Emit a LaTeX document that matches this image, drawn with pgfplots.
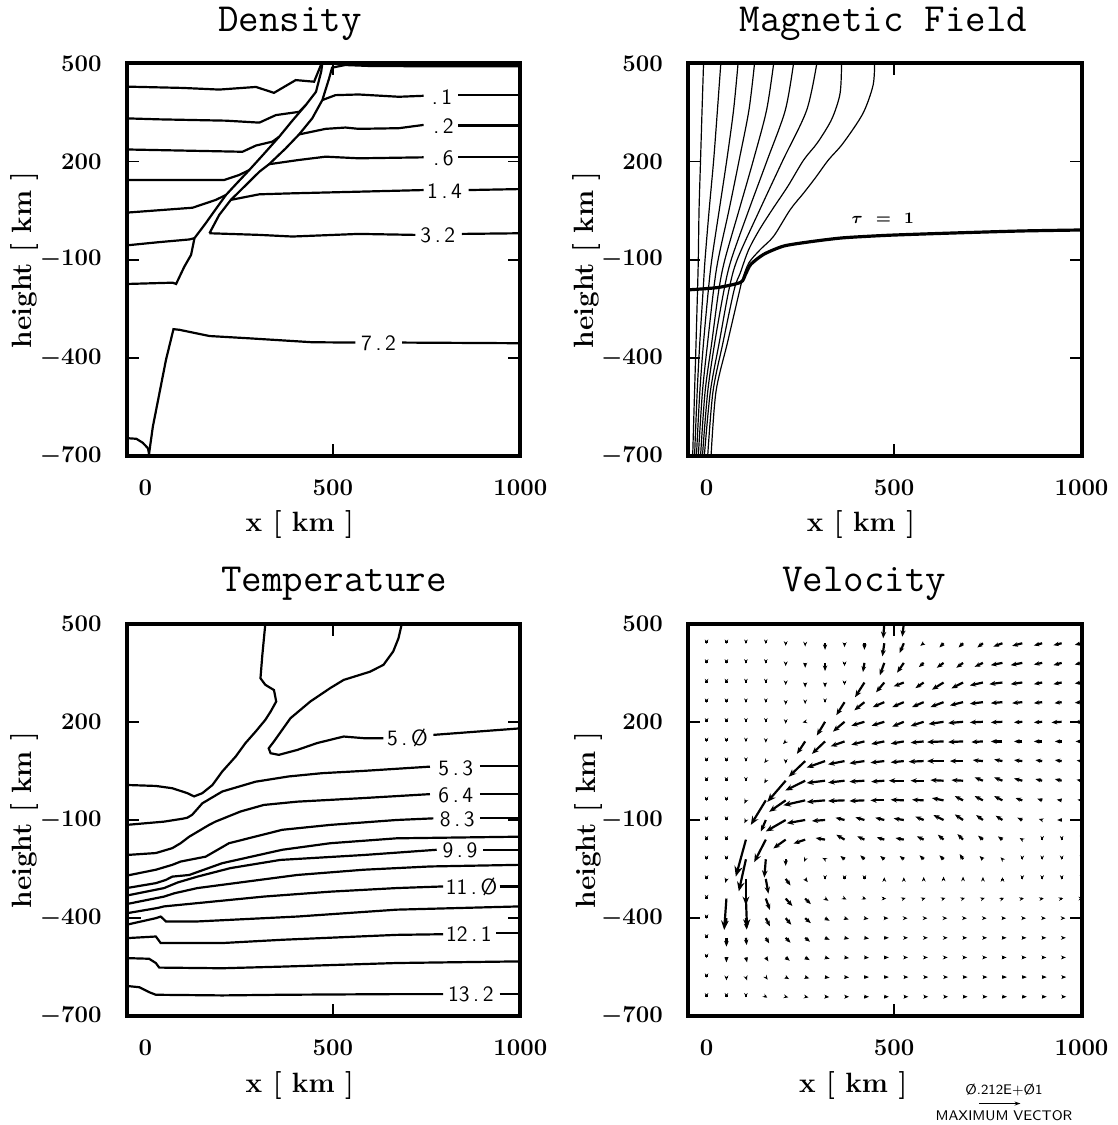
\documentclass[border=0pt]{standalone}
\usepackage{pgfplots}
\pgfplotsset{compat=1.18}
\usepgfplotslibrary{groupplots}
\usetikzlibrary{arrows.meta}

\begin{document}
\begin{tikzpicture}[lab/.style={font=\sffamily\fontsize{11}{12}\selectfont, inner sep=0pt}]
\begin{groupplot}[
  group style={group size=2 by 2, horizontal sep=84pt, vertical sep=84pt},
  scale only axis, width=197.5pt, height=197pt,
  xmin=-50, xmax=1000, ymin=-700, ymax=500,
  xtick={500}, extra x ticks={0,1000}, extra x tick style={major tick length=0pt},
  ytick={-700,-400,-100,200,500},
  major tick length=6pt,
  tick style={line width=0.8pt, black},
  axis line style={line width=2pt},
  /pgf/number format/1000 sep={},
  tick label style={font=\fontsize{13}{15}\selectfont\boldmath},
  xticklabel style={yshift=-8.5pt},
  yticklabel style={xshift=-9pt},
  xlabel={x [ km ]}, ylabel={height [ km ]},
  every axis x label/.style={at={(axis description cs:0.44,-0.175)}, anchor=center, font=\fontsize{14}{16}\selectfont\bfseries},
  every axis y label/.style={at={(axis description cs:-0.258,0.5)}, anchor=center, rotate=90, font=\fontsize{14}{16}\selectfont\bfseries},
  title style={font=\fontsize{20}{24}\selectfont\ttfamily, anchor=base},
  cycle list={black,solid,mark=none,line width=1.1pt\\},
  clip mode=individual,
]

% ---------------- Density ----------------
\nextgroupplot[title={Density}, title style={at={(axis description cs:0.415,1.052)}}]
\addplot coordinates {(-50,429) (100,425) (197,420) (295,428) (343,410) (401,449) (450,444) (470,500)};
\addplot coordinates {(-50,332) (38,329) (215,325) (304,319) (348,342) (410,352) (428,373)};
\addplot coordinates {(-50,237) (38,235) (259,230) (295,249) (339,261) (357,276)};
\addplot coordinates {(-50,144) (211,144) (250,159) (277,174)};
\addplot coordinates {(-50,44) (126,59) (188,83) (215,98)};
\addplot coordinates {(-50,-56) (38,-46) (117,-38) (131,-34)};
\addplot coordinates {(-50,-174) (73,-170) (82,-174) (104,-121) (122,-85) (131,-34) (160,10) (188,55) (215,98) (245,135) (277,174) (315,222) (357,276) (392,325) (428,373) (455,413) (469,475) (472,500)};
\addplot coordinates {(171,-19) (197,37) (228,83) (268,128) (304,169) (330,192) (374,240) (410,283) (445,332) (472,388) (490,454) (498,487) (533,495) (600,492) (800,491) (1000,491)};
\addplot coordinates {(472,388) (507,403) (569,405) (676,398) (742,401)};
\addplot coordinates {(835,403) (1000,403)};
\addplot coordinates {(410,283) (481,300) (534,304) (569,300) (676,302) (742,312)};
\addplot coordinates {(835,310) (1000,310)};
\addplot coordinates {(330,192) (410,205) (481,215) (569,210) (742,213)};
\addplot coordinates {(835,215) (1000,215)};
\addplot coordinates {(228,83) (304,100) (392,103) (569,108) (742,113)};
\addplot coordinates {(862,113) (1000,116)};
\addplot coordinates {(171,-19) (304,-24) (392,-29) (569,-21) (720,-24)};
\addplot coordinates {(844,-21) (1000,-19)};
\addplot coordinates {(9,-700) (20,-610) (55,-406) (75,-312) (91,-314) (171,-333) (277,-340) (445,-352) (560,-353)};
\addplot coordinates {(685,-353) (1000,-355)};
\addplot coordinates {(-50,-645) (-24,-647) (-7,-659) (7,-676) (11,-700)};
\node[lab] at (axis cs:791,398) {.\,1};
\node[lab] at (axis cs:795,307) {.\,2};
\node[lab] at (axis cs:795,210) {.\,6};
\node[lab] at (axis cs:798,110) {1\,.\,4};
\node[lab] at (axis cs:780,-24) {3\,.\,2};
\node[lab] at (axis cs:622,-355) {7\,.\,2};

% ---------------- Magnetic Field ----------------
\nextgroupplot[title={Magnetic Field}, title style={at={(axis description cs:0.497,1.052)}}]
\addplot[smooth, line width=0.6pt] coordinates {(-8,500) (-12,357) (-16,205) (-20,53) (-22,-99) (-24,-190) (-28,-352) (-32,-504) (-37,-700)};
\addplot[smooth, line width=0.6pt] coordinates {(38,500) (29,357) (19,205) (7,53) (-4,-99) (-9,-190) (-18,-352) (-25,-504) (-32,-700)};
\addplot[smooth, line width=0.6pt] coordinates {(84,500) (72,357) (54,205) (34,53) (14,-99) (5,-190) (-8,-352) (-18,-504) (-27,-700)};
\addplot[smooth, line width=0.6pt] coordinates {(128,500) (113,357) (87,205) (60,53) (31,-99) (19,-190) (3,-352) (-11,-504) (-22,-700)};
\addplot[smooth, line width=0.6pt] coordinates {(179,500) (160,357) (125,205) (87,53) (49,-99) (33,-190) (14,-352) (-4,-504) (-16,-700)};
\addplot[smooth, line width=0.6pt] coordinates {(232,500) (210,357) (162,205) (113,53) (66,-99) (47,-190) (22,-352) (3,-504) (-11,-700)};
\addplot[smooth, line width=0.6pt] coordinates {(294,500) (267,357) (204,205) (142,53) (82,-99) (60,-190) (34,-352) (10,-504) (-6,-700)};
\addplot[smooth, line width=0.6pt] coordinates {(360,500) (356,408) (334,330) (296,258) (259,205) (217,125) (175,53) (140,-10) (112,-70) (90,-140) (74,-190) (44,-352) (17,-504) (3,-700)};
\addplot[smooth, line width=0.6pt] coordinates {(448,500) (444,433) (417,347) (364,256) (325,205) (290,150) (259,104) (223,53) (179,-28) (144,-68) (113,-109) (96,-159) (89,-190) (56,-352) (25,-504) (12,-700)};
\addplot[line width=1.6pt, smooth, tension=0.4] coordinates {(-50,-192) (29,-185) (91,-169) (104,-144) (118,-114) (153,-83) (206,-58) (276,-45) (364,-33) (488,-25) (664,-18) (841,-12) (1000,-9)};
\node[font=\footnotesize\bfseries, inner sep=0pt] at (axis cs:470,28) {{\boldmath$\tau$}~~=~~1};

% ---------------- Temperature ----------------
\nextgroupplot[title={Temperature}, title style={at={(axis description cs:0.527,1.052)}}]
\addplot coordinates {(320,500) (312,404) (307,333) (320,313) (343,297) (349,262) (334,231) (320,206) (294,170) (267,135) (241,94) (205,48) (179,7) (152,-18) (130,-28) (112,-18) (72,-3) (28,4) (-50,7)};
\addplot coordinates {(684,500) (675,455) (661,415) (635,374) (599,353) (529,328) (493,303) (440,262) (387,211) (343,140) (329,119) (334,104) (356,99) (405,114) (458,135) (529,155) (582,150) (635,150)};
\addplot coordinates {(768,160) (1000,180)};
\addplot coordinates {(-50,-115) (50,-105) (100,-96) (112,-93) (125,-84) (152,-49) (205,-13) (294,17) (382,33) (471,43) (582,50) (759,63)};
\addplot coordinates {(892,65) (1000,65)};
\addplot coordinates {(-50,-207) (28,-201) (72,-186) (94,-171) (117,-151) (170,-115) (187,-105) (254,-74) (316,-54) (405,-44) (582,-33) (759,-21)};
\addplot coordinates {(892,-21) (1000,-21)};
\addplot coordinates {(-50,-270) (28,-252) (72,-237) (94,-227) (161,-212) (223,-171) (365,-130) (493,-115) (670,-100) (768,-95)};
\addplot coordinates {(892,-95) (1000,-95)};
\addplot coordinates {(-50,-308) (28,-293) (55,-283) (72,-273) (117,-268) (205,-232) (365,-191) (493,-171) (670,-156) (1000,-151)};
\addplot coordinates {(-50,-331) (50,-308) (86,-291) (139,-273) (227,-247) (360,-222) (582,-207) (777,-191)};
\addplot coordinates {(901,-191) (1000,-191)};
\addplot coordinates {(-50,-357) (50,-334) (77,-324) (139,-308) (272,-288) (405,-268) (582,-252) (759,-242) (1000,-237)};
\addplot coordinates {(-50,-385) (32,-369) (50,-364) (139,-354) (316,-334) (493,-319) (670,-308) (794,-303)};
\addplot coordinates {(945,-303) (1000,-303)};
\addplot coordinates {(-50,-400) (-12,-400)};
\addplot coordinates {(-50,-420) (28,-400) (41,-395) (55,-410) (139,-410) (405,-395) (670,-374) (1000,-364)};
\addplot coordinates {(-50,-461) (28,-456) (41,-476) (205,-476) (365,-466) (670,-451) (794,-449)};
\addplot coordinates {(936,-446) (1000,-446)};
\addplot coordinates {(-50,-522) (10,-524) (28,-537) (37,-551) (205,-553) (365,-548) (670,-537) (1000,-532)};
\addplot coordinates {(-50,-607) (-16,-611) (10,-626) (28,-634) (205,-636) (365,-634) (670,-632) (794,-632)};
\addplot coordinates {(945,-632) (1000,-632)};
\node[lab] at (axis cs:699,150) {5\,.\,Ø};
\node[lab] at (axis cs:828,58) {5\,.\,3};
\node[lab] at (axis cs:828,-26) {6\,.\,4};
\node[lab] at (axis cs:832,-98) {8\,.\,3};
\node[lab] at (axis cs:839,-194) {9\,.\,9};
\node[lab] at (axis cs:870,-305) {11\,.\,Ø};
\node[lab] at (axis cs:863,-450) {12\,.\,1};
\node[lab] at (axis cs:868,-634) {13\,.\,2};

% ---------------- Velocity ----------------
\nextgroupplot[title={Velocity}, title style={at={(axis description cs:0.448,1.052)}},
  every axis x label/.style={at={(axis description cs:0.42,-0.175)}, anchor=center, font=\fontsize{14}{16}\selectfont\bfseries},
  every axis y label/.style={at={(axis description cs:-0.253,0.5)}, anchor=center, rotate=90, font=\fontsize{14}{16}\selectfont\bfseries}]
\addplot[black, line width=1.1pt,
  point meta={sqrt((\thisrow{u})^2+(\thisrow{v})^2)},
  quiver={u=\thisrow{u}, v=\thisrow{v},
    every arrow/.append style={line width=1.1pt, /utils/exec={\pgfmathsetmacro\hl{2.2+3.0*\pgfplotspointmetatransformed/1000}\pgfmathsetmacro\hw{0.8*\hl}}, -{Stealth[length=\hl pt, width=\hw pt]}}}]
table {
x y u v
474 500 -3 -45
526 500 -4 -40
0 440 0 -2
53 440 0 -2
105 440 0 -2
158 440 0 -2
211 440 0 -8
263 440 0 -10
316 440 0 -20
368 440 0 -12
421 440 0 -20
474 440 -5 -40
526 440 -11 -30
579 440 -9 -8
632 440 -11 -13
684 440 -12 -13
737 440 -15 -13
789 440 -24 -10
842 440 -27 -8
895 440 -22 -7
947 440 -22 -6
1000 440 -18 -5
0 380 0 -2
53 380 0 -2
105 380 0 -2
158 380 0 -2
211 380 0 -10
263 380 0 -15
316 380 0 -25
368 380 0 -10
421 380 -4 -28
474 380 -12 -38
526 380 -18 -30
579 380 -13 -13
632 380 -18 -15
684 380 -18 -15
737 380 -22 -12
789 380 -31 -7
842 380 -31 -7
895 380 -22 -5
947 380 -22 -7
1000 380 -18 -5
0 320 0 -2
53 320 0 -2
105 320 0 -2
158 320 0 -2
211 320 0 -8
263 320 0 -15
316 320 0 -15
368 320 0 -8
421 320 -25 -45
474 320 -22 -30
526 320 -27 -12
579 320 -22 -17
632 320 -31 -22
684 320 -31 -18
737 320 -35 -9
789 320 -35 -5
842 320 -31 -5
895 320 -22 -5
947 320 -22 -5
1000 320 -18 -3
0 260 0 -2
53 260 0 -2
105 260 0 -2
158 260 0 -2
211 260 0 -8
263 260 0 -6
316 260 0 -2
368 260 -22 -40
421 260 -27 -25
474 260 -31 -15
526 260 -31 -15
579 260 -31 -15
632 260 -35 -15
684 260 -35 -10
737 260 -35 -5
789 260 -31 -3
842 260 -27 -3
895 260 -22 -3
947 260 -19 -3
1000 260 -18 -2
0 200 0 -2
53 200 0 -2
105 200 0 -2
158 200 0 -2
211 200 0 -6
263 200 -7 -2
316 200 -22 -42
368 200 -31 -30
421 200 -35 -12
474 200 -34 -12
526 200 -31 -15
579 200 -35 -13
632 200 -40 -7
684 200 -40 -4
737 200 -35 -2
789 200 -31 -2
842 200 -22 -2
895 200 -22 -2
947 200 -27 -2
1000 200 -18 -1
0 140 0 -2
53 140 0 -2
105 140 0 -2
158 140 0 -4
211 140 -7 -8
263 140 -22 -38
316 140 -35 -38
368 140 -37 -15
421 140 -35 -10
474 140 -35 -8
526 140 -35 -7
579 140 -35 -4
632 140 -44 -2
684 140 -40 -2
737 140 -31 -2
789 140 -31 0
842 140 -22 0
895 140 -22 0
947 140 -18 0
1000 140 -16 0
0 80 0 -2
53 80 0 -2
105 80 0 -2
158 80 -4 -6
211 80 0 -8
263 80 -44 -48
316 80 -49 -20
368 80 -44 -10
421 80 -40 -7
474 80 -37 -5
526 80 -35 -4
579 80 -40 -2
632 80 -44 0
684 80 -35 0
737 80 -27 3
789 80 -22 5
842 80 -22 3
895 80 -18 3
947 80 -18 3
1000 80 -13 2
0 20 0 -2
53 20 0 -2
105 20 0 -2
158 20 -4 -8
211 20 -49 -65
263 20 -53 -30
316 20 -49 -7
368 20 -44 -6
421 20 -40 -3
474 20 -35 -3
526 20 -40 0
579 20 -35 0
632 20 -35 2
684 20 -31 2
737 20 -22 10
789 20 -22 10
842 20 -22 7
895 20 -18 5
947 20 -18 5
1000 20 -13 3
0 -40 0 -2
53 -40 0 -2
105 -40 -4 -10
158 -40 -40 -75
211 -40 -44 -35
263 -40 -58 -15
316 -40 -49 -5
368 -40 -44 -2
421 -40 -40 -2
474 -40 -37 0
526 -40 -35 2
579 -40 -31 2
632 -40 -31 7
684 -40 -22 13
737 -40 -22 13
789 -40 -22 13
842 -40 -18 7
895 -40 -13 5
947 -40 -13 2
1000 -40 -11 2
0 -100 0 -2
53 -100 0 -2
105 -100 -4 -10
158 -100 -13 -35
211 -100 -53 -35
263 -100 -49 -10
316 -100 -35 -3
368 -100 -24 7
421 -100 -24 8
474 -100 -24 7
526 -100 -27 5
579 -100 -22 10
632 -100 -27 15
684 -100 -22 17
737 -100 -18 15
789 -100 -18 13
842 -100 -13 7
895 -100 -9 3
947 -100 -12 0
1000 -100 -9 0
0 -160 0 -2
53 -160 0 -2
105 -160 -27 -113
158 -160 -31 -69
211 -160 -33 -27
263 -160 -31 -12
316 -160 -25 5
368 -160 -22 15
421 -160 -19 10
474 -160 -20 7
526 -160 -22 5
579 -160 -18 10
632 -160 -15 15
684 -160 -15 17
737 -160 -13 12
789 -160 -12 10
842 -160 -7 5
895 -160 0 -2
947 -160 0 -2
1000 -160 0 -2
0 -220 0 -2
53 -220 0 -2
105 -220 -19 -98
158 -220 -4 -56
211 -220 0 -20
263 -220 -3 -8
316 -220 -7 4
368 -220 -11 10
421 -220 -11 12
474 -220 -11 10
526 -220 -11 10
579 -220 -11 12
632 -220 -11 12
684 -220 -9 16
737 -220 -9 10
789 -220 -5 6
842 -220 0 -2
895 -220 0 -2
947 -220 0 -2
1000 -220 0 -2
0 -280 0 -2
53 -280 -3 -12
105 -280 0 -80
158 -280 7 -45
211 -280 13 -20
263 -280 7 -10
316 -280 0 -2
368 -280 0 -2
421 -280 0 -2
474 -280 0 5
526 -280 0 5
579 -280 0 6
632 -280 0 7
684 -280 0 7
737 -280 0 6
789 -280 0 5
842 -280 0 -2
895 -280 0 -2
947 -280 0 -2
1000 -280 0 -2
0 -340 0 -2
53 -340 -6 -96
105 -340 3 -91
158 -340 11 -35
211 -340 18 -23
263 -340 15 -17
316 -340 9 -7
368 -340 5 -3
421 -340 5 -2
474 -340 5 0
526 -340 5 2
579 -340 5 2
632 -340 5 2
684 -340 5 2
737 -340 5 2
789 -340 4 2
842 -340 4 1
895 -340 4 1
947 -340 4 1
1000 -340 4 0
0 -400 0 -2
53 -400 -2 -25
105 -400 2 -35
158 -400 11 -25
211 -400 15 -20
263 -400 15 -15
316 -400 12 -8
368 -400 11 -4
421 -400 11 -2
474 -400 11 0
526 -400 10 0
579 -400 10 0
632 -400 10 0
684 -400 10 0
737 -400 10 0
789 -400 10 0
842 -400 10 0
895 -400 10 0
947 -400 10 0
1000 -400 10 0
0 -460 0 -2
53 -460 0 -27
105 -460 2 -22
158 -460 9 -17
211 -460 13 -15
263 -460 13 -12
316 -460 12 -6
368 -460 12 -3
421 -460 12 -2
474 -460 12 0
526 -460 11 0
579 -460 11 0
632 -460 11 0
684 -460 11 0
737 -460 11 0
789 -460 11 0
842 -460 11 0
895 -460 11 0
947 -460 11 0
1000 -460 11 0
0 -520 0 -2
53 -520 0 -15
105 -520 3 -15
158 -520 7 -12
211 -520 11 -10
263 -520 12 -8
316 -520 12 -4
368 -520 12 -2
421 -520 12 -1
474 -520 12 0
526 -520 11 0
579 -520 11 0
632 -520 11 0
684 -520 11 0
737 -520 11 0
789 -520 11 0
842 -520 11 0
895 -520 11 0
947 -520 11 0
1000 -520 11 0
0 -580 0 -2
53 -580 0 -10
105 -580 3 -10
158 -580 5 -8
211 -580 9 -6
263 -580 11 -4
316 -580 12 -2
368 -580 12 -1
421 -580 12 0
474 -580 12 0
526 -580 12 0
579 -580 12 0
632 -580 12 0
684 -580 12 0
737 -580 12 0
789 -580 12 0
842 -580 12 0
895 -580 12 0
947 -580 12 0
1000 -580 12 0
0 -640 0 -2
53 -640 0 -2
105 -640 0 -2
158 -640 4 -3
211 -640 7 -2
263 -640 9 -2
316 -640 11 -1
368 -640 12 0
421 -640 12 0
474 -640 12 0
526 -640 12 0
579 -640 12 0
632 -640 12 0
684 -640 12 0
737 -640 12 0
789 -640 12 0
842 -640 12 0
895 -640 12 0
947 -640 12 0
1000 -640 12 0
};
\node[font=\sffamily\scriptsize, inner sep=0pt] at (rel axis cs:0.803,-0.186) {Ø.212E+Ø1};
\draw[-{Stealth[length=3pt,width=2pt]}, line width=0.6pt] (rel axis cs:0.739,-0.222) -- (rel axis cs:0.845,-0.222);
\node[font=\sffamily\scriptsize, inner sep=0pt] at (rel axis cs:0.803,-0.252) {MAXIMUM VECTOR};
\end{groupplot}
\path ([xshift=-63.5pt,yshift=30pt]group c1r1.north west) rectangle ([xshift=497pt,yshift=-532.5pt]group c1r1.north west);
\end{tikzpicture}
\end{document}
